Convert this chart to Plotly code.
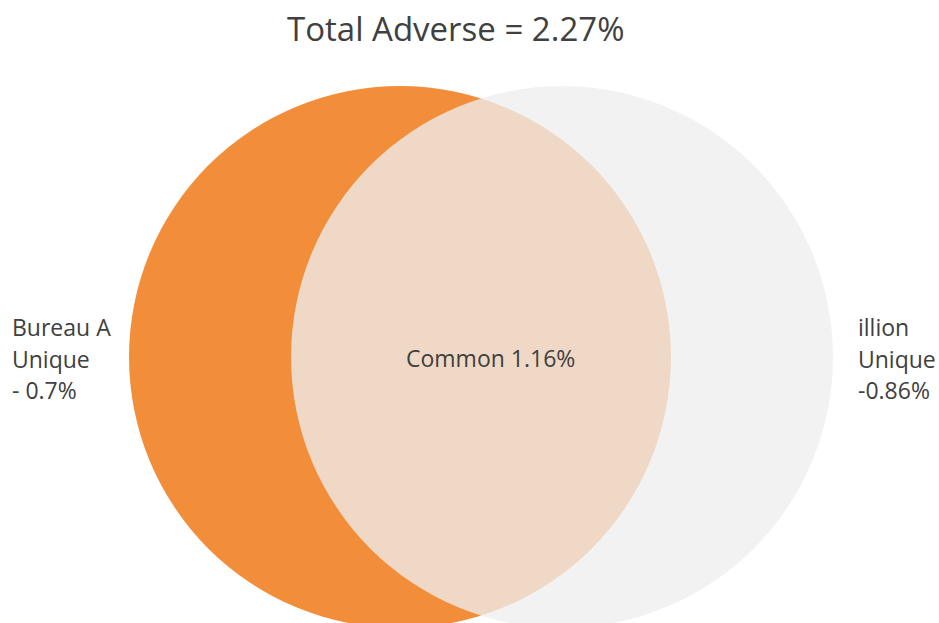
import plotly.graph_objects as go

# ---- data ----
title_text = "Total Adverse = 2.27%"
set_names = ["Bureau A", "illion"]
unique_values = ["0.7%", "0.86%"]
common_value = "1.16%"

# ---- geometry (pixel-space axes) ----
W, H = 939, 623
left_c = (400, 357, 271)
right_c = (562, 357, 271)

fig = go.Figure()
fig.add_trace(go.Scatter(x=[0, W], y=[0, H], mode="markers", marker=dict(opacity=0), hoverinfo="skip", showlegend=False))

def circ(c, color, op):
    cx, cy, r = c
    return dict(type="circle", xref="x", yref="y", x0=cx - r, x1=cx + r, y0=cy - r, y1=cy + r,
                fillcolor=color, opacity=op, line=dict(width=0), layer="below")

fig.add_shape(**circ(left_c, "#F28E3A", 1))
fig.add_shape(**circ(right_c, "#EEEEEE", 0.78))

font_color = "#404040"
fam = "Open Sans, Noto Sans, sans-serif"

def txt(x, y, s, anchor="left", size=23):
    fig.add_annotation(x=x, y=y, xref="x", yref="y", text=s, showarrow=False,
                       xanchor=anchor, yanchor="middle", font=dict(family=fam, size=size, color=font_color))

txt(455, 28, title_text, "center", 33)
left_lines = [set_names[0], "Unique", "- " + unique_values[0]]
right_lines = [set_names[1], "Unique", "-" + unique_values[1]]
for i, s in enumerate(left_lines):
    txt(10, 327 + 31.5 * i, s)
for i, s in enumerate(right_lines):
    txt(856, 327 + 31.5 * i, s)
txt(490, 358, "Common " + common_value, "center")

fig.update_layout(width=W, height=H, margin=dict(l=0, r=0, t=0, b=0),
                  paper_bgcolor="white", plot_bgcolor="white",
                  xaxis=dict(range=[0, W], visible=False, fixedrange=True),
                  yaxis=dict(range=[H, 0], visible=False, fixedrange=True),
                  showlegend=False)
fig.write_html("out.html", config={"displayModeBar": False})
